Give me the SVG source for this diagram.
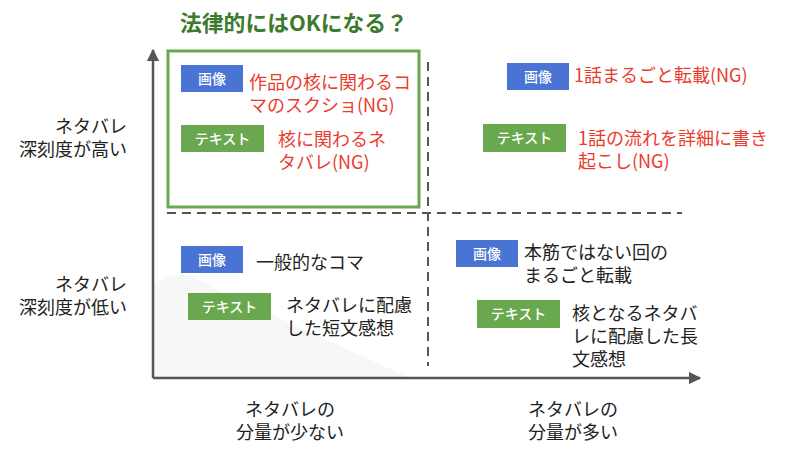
<svg xmlns="http://www.w3.org/2000/svg" width="800" height="456" viewBox="0 0 800 456">
<style>
text{font-family:"Noto Sans CJK JP","Noto Sans",sans-serif}
.t{font-size:18px;fill:#222}
.r{font-size:18px;fill:#ea3b2e}
.lbl{font-size:14px;fill:#fff;text-anchor:middle;font-weight:500}
.img{fill:#4a74d4}
.txt{fill:#6aa84f}
.axis{stroke:#555;stroke-width:2.5;fill:none}
.dash{stroke:#555;stroke-width:2;stroke-dasharray:9 6;fill:none}
</style>
<defs>
<marker id="ah" viewBox="0 0 10 10" refX="9" refY="5" markerWidth="5" markerHeight="5" orient="auto" markerUnits="strokeWidth">
<path d="M0,0 L10,5 L0,10 Z" fill="#555"/>
</marker>
</defs>
<rect width="800" height="456" fill="#fff"/>
<path d="M154,285 Q168,275 182,275 Q196,276 215,289 L410,378 L154,378 Z" fill="#f7f7f7"/>
<text x="180" y="31" font-size="21.8" font-weight="bold" fill="#3c7a2c">法律的にはOKになる？</text>
<g id="connectors">
<line class="axis" x1="153" y1="378" x2="153" y2="50" marker-end="url(#ah)"/>
<line class="axis" x1="153" y1="378" x2="700" y2="378" marker-end="url(#ah)"/>
<line class="dash" x1="167" y1="213" x2="682" y2="213"/>
<line class="dash" x1="428" y1="62" x2="428" y2="366"/>
</g>
<g id="ok-box">
<rect x="168" y="51" width="251" height="156" fill="none" stroke="#6aa84f" stroke-width="3"/>
</g>
<g id="axis-labels">
<text class="t" text-anchor="end"><tspan x="127" y="133">ネタバレ</tspan><tspan x="127" y="156">深刻度が高い</tspan></text>
<text class="t" text-anchor="end"><tspan x="127" y="291">ネタバレ</tspan><tspan x="127" y="314">深刻度が低い</tspan></text>
<text class="t" text-anchor="middle"><tspan x="290" y="416">ネタバレの</tspan><tspan x="290" y="439">分量が少ない</tspan></text>
<text class="t" text-anchor="middle"><tspan x="573" y="416">ネタバレの</tspan><tspan x="573" y="439">分量が多い</tspan></text>
</g>
<g id="tl-image">
<rect class="img" x="181" y="65" width="62" height="27"/>
<text class="lbl" x="212" y="83.5">画像</text>
<text class="r"><tspan x="249" y="89">作品の核に関わるコ</tspan><tspan x="249" y="112">マのスクショ(NG)</tspan></text>
</g>
<g id="tl-text">
<rect class="txt" x="181" y="125" width="83" height="27"/>
<text class="lbl" x="222.5" y="143.5">テキスト</text>
<text class="r"><tspan x="278" y="146">核に関わるネ</tspan><tspan x="278" y="169">タバレ(NG)</tspan></text>
</g>
<g id="tr-image">
<rect class="img" x="507" y="63" width="62" height="27"/>
<text class="lbl" x="538" y="81.5">画像</text>
<text class="r" x="574" y="82">1話まるごと転載(NG)</text>
</g>
<g id="tr-text">
<rect class="txt" x="483" y="124" width="83" height="28"/>
<text class="lbl" x="524.5" y="143">テキスト</text>
<text class="r"><tspan x="578" y="145">1話の流れを詳細に書き</tspan><tspan x="578" y="168">起こし(NG)</tspan></text>
</g>
<g id="bl-image">
<rect class="img" x="181" y="246" width="62" height="27"/>
<text class="lbl" x="212" y="264.5">画像</text>
<text class="t" x="256" y="269">一般的なコマ</text>
</g>
<g id="bl-text">
<rect class="txt" x="188" y="293" width="83" height="27"/>
<text class="lbl" x="229.5" y="311.5">テキスト</text>
<text class="t"><tspan x="286" y="312">ネタバレに配慮</tspan><tspan x="286" y="335">した短文感想</tspan></text>
</g>
<g id="br-image">
<rect class="img" x="456" y="240" width="62" height="27"/>
<text class="lbl" x="487" y="258.5">画像</text>
<text class="t"><tspan x="524" y="259">本筋ではない回の</tspan><tspan x="524" y="282">まるごと転載</tspan></text>
</g>
<g id="br-text">
<rect class="txt" x="477" y="300" width="83" height="28"/>
<text class="lbl" x="518.5" y="319">テキスト</text>
<text class="t"><tspan x="572" y="320">核となるネタバ</tspan><tspan x="572" y="343">レに配慮した長</tspan><tspan x="572" y="366">文感想</tspan></text>
</g>
</svg>
